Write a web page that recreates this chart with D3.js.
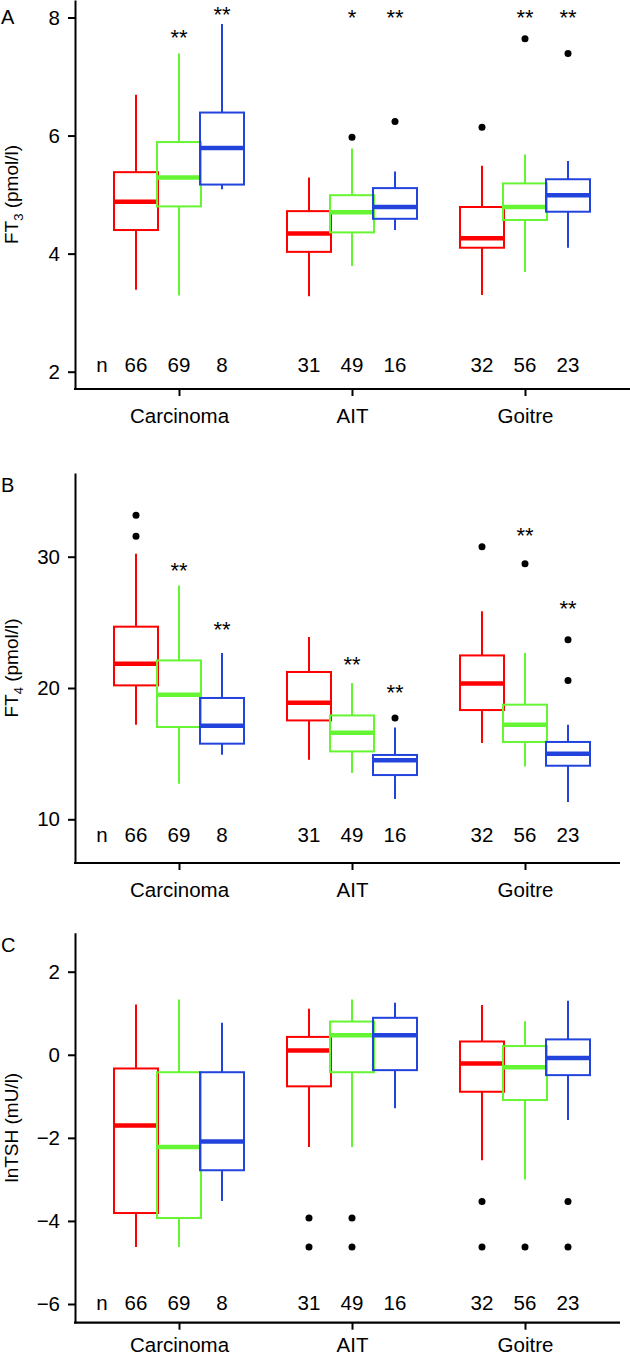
<!DOCTYPE html>
<html>
<head>
<meta charset="utf-8">
<script src="https://cdn.jsdelivr.net/npm/d3@7"></script>
<style>
  body { margin: 0; background: #fff; }
  svg { display: block; font-family: "Liberation Sans", Arial, sans-serif; }
</style>
</head>
<body>
<div id="chart"></div>
<script>
const categories = ["Carcinoma", "AIT", "Goitre"];
const groupColors = ["#ff0000", "#66f533", "#2244dd"];
const nCounts = [66, 69, 8, 31, 49, 16, 32, 56, 23];

// each box: [low whisker, Q1, median, Q3, high whisker], order red/green/blue per category
const ft3Boxes = [
  [3.39, 4.40, 4.88, 5.38, 6.69],
  [3.29, 4.80, 5.29, 5.89, 7.39],
  [5.09, 5.17, 5.79, 6.39, 7.89],
  [3.28, 4.03, 4.34, 4.72, 5.29],
  [3.79, 4.36, 4.70, 4.99, 5.78],
  [4.40, 4.59, 4.79, 5.11, 5.39],
  [3.30, 4.10, 4.26, 4.79, 5.49],
  [3.69, 4.57, 4.79, 5.19, 5.68],
  [4.10, 4.71, 4.99, 5.26, 5.57]
];
const ft3Outliers = [[], [], [], [], [5.97], [6.24], [6.14], [7.64], [7.39]];
const ft3Stars = ["", "**", "**", "", "*", "**", "", "**", "**"];
const ft3StarAt = [null, 7.74, 8.12, null, 8.07, 8.08, null, 8.07, 8.07];
const ft3Ticks = [2, 4, 6, 8];

const ft4Boxes = [
  [17.2, 20.2, 21.85, 24.67, 30.23],
  [12.71, 17.03, 19.49, 22.1, 27.8],
  [14.92, 15.76, 17.13, 19.24, 22.67],
  [14.54, 17.53, 18.88, 21.22, 23.88],
  [13.53, 15.17, 16.6, 17.91, 20.38],
  [11.55, 13.37, 14.49, 14.9, 17.0],
  [15.81, 18.32, 20.35, 22.48, 25.84],
  [14.03, 15.89, 17.21, 18.73, 22.67],
  [11.32, 14.08, 15.0, 15.89, 17.21]
];
const ft4Outliers = [[33.15, 31.55], [], [], [], [], [17.72], [30.76], [29.47], [23.68, 20.58]];
const ft4Stars = ["", "**", "**", "", "**", "**", "", "**", "**"];
const ft4StarAt = [null, 29.31, 24.8, null, 22.16, 20.0, null, 31.93, 26.42];
const ft4Ticks = [10, 20, 30];

const tshBoxes = [
  [-4.63, -3.81, -1.70, -0.33, 1.21],
  [-4.63, -3.93, -2.22, -0.42, 1.33],
  [-3.52, -2.78, -2.09, -0.42, 0.77],
  [-2.22, -0.76, 0.10, 0.43, 1.11],
  [-2.22, -0.42, 0.47, 0.80, 1.33],
  [-1.29, -0.37, 0.47, 0.89, 1.25],
  [-2.54, -0.89, -0.21, 0.32, 1.20],
  [-3.00, -1.09, -0.30, 0.21, 0.81],
  [-1.57, -0.49, -0.08, 0.37, 1.30]
];
const tshOutliers = [[], [], [], [-3.93, -4.63], [-3.93, -4.63], [], [-3.53, -4.63], [-4.63], [-3.53, -4.63]];
const tshStars = ["", "", "", "", "", "", "", "", ""];
const tshStarAt = [null, null, null, null, null, null, null, null, null];
const tshTicks = [-6, -4, -2, 0, 2];

const width = 630, height = 1355;
const svg = d3.select("#chart").append("svg")
  .attr("width", width)
  .attr("height", height);

const x = d3.scalePoint().domain(categories).range([179, 525]);
const inner = d3.scalePoint().domain([0, 1, 2]).range([-43, 43]);
const boxHalf = 22;

function drawPanel(p) {
  // scale anchored on two ticks, then stretched to the axis extent
  const y = d3.scaleLinear().domain(p.anchor).range(p.anchorPx);
  y.domain([y.invert(p.bottom), y.invert(p.top)]).range([p.bottom, p.top]);

  const g = svg.append("g");

  g.append("g")
    .attr("transform", "translate(75,0)")
    .call(d3.axisLeft(y).tickValues(p.ticks).tickFormat(d3.format("d")).tickSize(7).tickSizeOuter(0).tickPadding(8))
    .call(a => a.selectAll("text").attr("font-size", 20.5).attr("font-family", "inherit").attr("fill", "#000"))
    .call(a => a.selectAll("line, path").attr("stroke", "#000").attr("stroke-width", 2));

  g.append("line")
    .attr("x1", 74).attr("x2", p.right)
    .attr("y1", p.bottom).attr("y2", p.bottom)
    .attr("stroke", "#000").attr("stroke-width", 2.2);

  g.append("g")
    .attr("transform", `translate(0,${p.bottom})`)
    .call(d3.axisBottom(x).tickSize(7).tickPadding(p.xPad))
    .call(a => a.select(".domain").remove())
    .call(a => a.selectAll("text").attr("font-size", 20.5).attr("font-family", "inherit").attr("fill", "#000"))
    .call(a => a.selectAll("line").attr("stroke", "#000").attr("stroke-width", 2));

  // y label with subscript
  const lab = g.append("text")
    .attr("transform", `translate(17.5,${(p.top + p.bottom) / 2}) rotate(-90)`)
    .attr("text-anchor", "middle")
    .attr("font-size", 19);
  lab.append("tspan").text(p.label[0]);
  if (p.label[1]) {
    lab.append("tspan").attr("font-size", 13).attr("dy", 5).text(p.label[1]);
    lab.append("tspan").attr("dy", -5).text(p.label[2]);
  }

  g.append("text")
    .attr("x", 1).attr("y", p.letterY)
    .attr("font-size", 20)
    .text(p.letter);

  const boxes = p.boxes.map((b, i) => ({
    b, i,
    cx: x(categories[Math.floor(i / 3)]) + inner(i % 3),
    color: groupColors[i % 3]
  }));

  const bg = g.selectAll("g.box").data(boxes).join("g").attr("class", "box");

  bg.append("line")
    .attr("x1", d => d.cx).attr("x2", d => d.cx)
    .attr("y1", d => y(d.b[3])).attr("y2", d => y(d.b[4]))
    .attr("stroke", d => d.color).attr("stroke-width", 2);
  bg.append("line")
    .attr("x1", d => d.cx).attr("x2", d => d.cx)
    .attr("y1", d => y(d.b[1])).attr("y2", d => y(d.b[0]))
    .attr("stroke", d => d.color).attr("stroke-width", 2);
  bg.append("rect")
    .attr("x", d => d.cx - boxHalf)
    .attr("width", boxHalf * 2)
    .attr("y", d => y(d.b[3]))
    .attr("height", d => y(d.b[1]) - y(d.b[3]))
    .attr("fill", "none")
    .attr("stroke", d => d.color).attr("stroke-width", 2);
  bg.append("line")
    .attr("x1", d => d.cx - boxHalf + 1).attr("x2", d => d.cx + boxHalf - 1)
    .attr("y1", d => y(d.b[2])).attr("y2", d => y(d.b[2]))
    .attr("stroke", d => d.color).attr("stroke-width", 4.5);

  bg.selectAll("circle")
    .data(d => p.outliers[d.i].map(v => ({ v, cx: d.cx })))
    .join("circle")
    .attr("cx", d => d.cx).attr("cy", d => y(d.v))
    .attr("r", 3.5).attr("fill", "#000");

  g.selectAll("text.star")
    .data(boxes.filter(d => p.stars[d.i]))
    .join("text")
    .attr("class", "star")
    .attr("x", d => d.cx)
    .attr("y", d => y(p.starAt[d.i]) + 12)
    .attr("text-anchor", "middle")
    .attr("font-size", 22)
    .text(d => p.stars[d.i]);

  const nY = p.bottom - p.nOffset;
  g.append("text")
    .attr("x", 102).attr("y", nY)
    .attr("text-anchor", "middle")
    .attr("font-size", 20.5)
    .text("n");
  g.selectAll("text.n")
    .data(boxes)
    .join("text")
    .attr("class", "n")
    .attr("x", d => d.cx).attr("y", nY)
    .attr("text-anchor", "middle")
    .attr("font-size", 20.5)
    .text(d => nCounts[d.i]);
}

drawPanel({
  boxes: ft3Boxes, outliers: ft3Outliers, stars: ft3Stars, starAt: ft3StarAt, ticks: ft3Ticks,
  anchor: [2, 8], anchorPx: [371.7, 17.5], top: 0, bottom: 389, right: 630, xPad: 12,
  label: ["FT", "3", " (pmol/l)"], letter: "A", letterY: 24, nOffset: 17
});
drawPanel({
  boxes: ft4Boxes, outliers: ft4Outliers, stars: ft4Stars, starAt: ft4StarAt, ticks: ft4Ticks,
  anchor: [10, 30], anchorPx: [819.3, 556.7], top: 473, bottom: 863, right: 620, xPad: 12,
  label: ["FT", "4", " (pmol/l)"], letter: "B", letterY: 492, nOffset: 21
});
drawPanel({
  boxes: tshBoxes, outliers: tshOutliers, stars: tshStars, starAt: tshStarAt, ticks: tshTicks,
  anchor: [-6, 2], anchorPx: [1304, 971.7], top: 932.7, bottom: 1322.7, right: 620, xPad: 8,
  label: ["lnTSH (mU/l)"], letter: "C", letterY: 952, nOffset: 13
});
</script>
</body>
</html>
